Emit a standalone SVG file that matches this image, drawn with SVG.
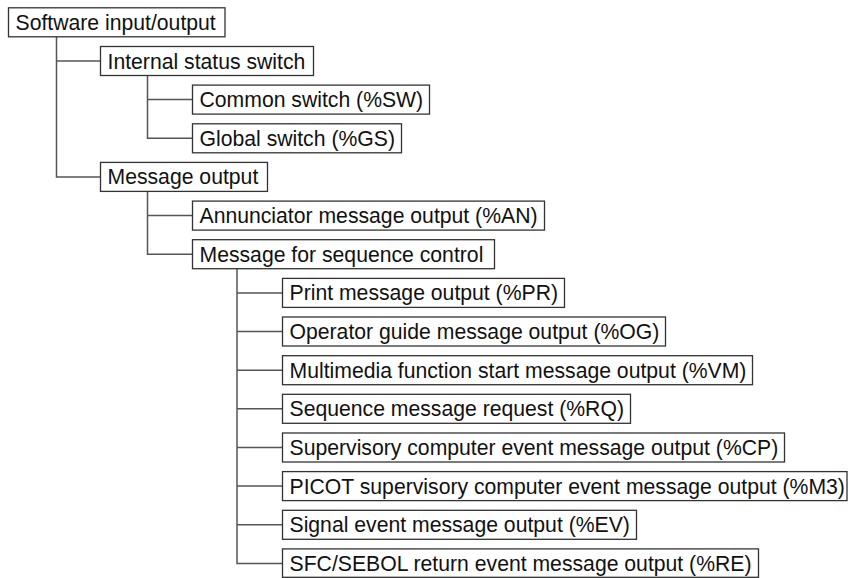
<svg xmlns="http://www.w3.org/2000/svg" width="849" height="578" viewBox="0 0 849 578">
<style>
.box{fill:#fff;stroke:#333;stroke-width:1.3}
.lbl{font-family:"Liberation Sans",Arial,sans-serif;font-size:21.2px;fill:#111}
.con{fill:none;stroke:#555;stroke-width:1.5}
</style>
<rect width="849" height="578" fill="#fff"/>
<g id="connectors">
<path class="con" d="M56.5 36.8 V176.9 H100.5 M56.5 61 H100.5"/>
<path class="con" d="M147.5 75.5 V138.3 H192.5 M147.5 99.6 H192.5"/>
<path class="con" d="M147.5 191.4 V254.2 H192.5 M147.5 215.6 H192.5"/>
<path class="con" d="M237 268.7 V563.4 H282.5 M237 292.9 H282.5 M237 331.5 H282.5 M237 370.2 H282.5 M237 408.8 H282.5 M237 447.5 H282.5 M237 486.1 H282.5 M237 524.8 H282.5"/>
</g>
<g id="n0"><rect class="box" x="8.5" y="7.8" width="216.5" height="29"/><text class="lbl" x="15.5" y="29.8">Software input/output</text></g>
<g id="n1"><rect class="box" x="100.5" y="46.5" width="213" height="29"/><text class="lbl" x="107.5" y="68.5">Internal status switch</text></g>
<g id="n2"><rect class="box" x="192.5" y="85.1" width="237" height="29"/><text class="lbl" x="199.5" y="107.1">Common switch (%SW)</text></g>
<g id="n3"><rect class="box" x="192.5" y="123.8" width="209" height="29"/><text class="lbl" x="199.5" y="145.8">Global switch (%GS)</text></g>
<g id="n4"><rect class="box" x="100.5" y="162.4" width="167" height="29"/><text class="lbl" x="107.5" y="184.4">Message output</text></g>
<g id="n5"><rect class="box" x="192.5" y="201.1" width="352" height="29"/><text class="lbl" x="199.5" y="223.1">Annunciator message output (%AN)</text></g>
<g id="n6"><rect class="box" x="192.5" y="239.7" width="302" height="29"/><text class="lbl" x="199.5" y="261.7">Message for sequence control</text></g>
<g id="n7"><rect class="box" x="282.5" y="278.4" width="282" height="29"/><text class="lbl" x="289.5" y="300.4">Print message output (%PR)</text></g>
<g id="n8"><rect class="box" x="282.5" y="317" width="383" height="29"/><text class="lbl" x="289.5" y="339">Operator guide message output (%OG)</text></g>
<g id="n9"><rect class="box" x="282.5" y="355.7" width="470" height="29"/><text class="lbl" x="289.5" y="377.7">Multimedia function start message output (%VM)</text></g>
<g id="n10"><rect class="box" x="282.5" y="394.3" width="348" height="29"/><text class="lbl" x="289.5" y="416.3">Sequence message request (%RQ)</text></g>
<g id="n11"><rect class="box" x="282.5" y="433" width="502" height="29"/><text class="lbl" x="289.5" y="455">Supervisory computer event message output (%CP)</text></g>
<g id="n12"><rect class="box" x="282.5" y="471.6" width="564.5" height="29"/><text class="lbl" x="289.5" y="493.6">PICOT supervisory computer event message output (%M3)</text></g>
<g id="n13"><rect class="box" x="282.5" y="510.3" width="354" height="29"/><text class="lbl" x="289.5" y="532.3">Signal event message output (%EV)</text></g>
<g id="n14"><rect class="box" x="282.5" y="548.9" width="476" height="28.4"/><text class="lbl" x="289.5" y="570.9">SFC/SEBOL return event message output (%RE)</text></g>
</svg>
